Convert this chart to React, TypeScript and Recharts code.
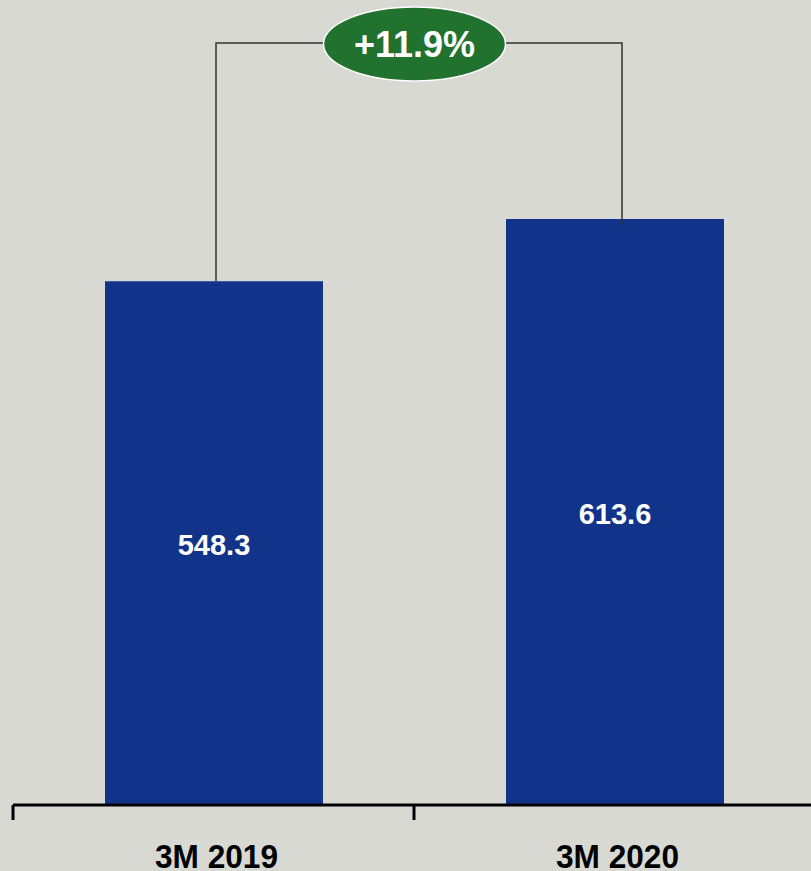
import { BarChart, Bar, XAxis, YAxis, LabelList } from "recharts"

const periods = ["3M 2019", "3M 2020"]
const revenue = [548.3, 613.6]

const data = periods.map((period, i) => ({ period, revenue: revenue[i] }))

const BG = "#D9D9D4"
const BLUE = "#12338A"
const GREEN = "#22722F"
const FONT = "'Liberation Sans', Arial, Helvetica, sans-serif"

const W = 830
const H = 871
const margin = { top: 41, right: 15, bottom: 0, left: 13 }
const band = (W - margin.left - margin.right) / periods.length
const bridgeY = 43

const growth = (revenue[1] / revenue[0] - 1) * 100
const growthText = `+${growth.toFixed(1)}%`

function PeriodTick(props: any) {
  const { x, y, payload } = props
  const left = x - band / 2
  return (
    <g>
      <line x1={left} x2={left} y1={y} y2={y + 15} stroke="#000" strokeWidth={3} />
      <text
        x={x + 3}
        y={y + 63}
        textAnchor="middle"
        fontSize={34}
        fontWeight="bold"
        fill="#000"
        fontFamily={FONT}
        textLength={123}
        lengthAdjust="spacingAndGlyphs"
      >
        {payload.value}
      </text>
    </g>
  )
}

// connector lines from each bar up to the growth bubble
function Bridge(props: any) {
  const { x, y, width, index, value } = props
  const cx = Number(x) + Number(width) / 2
  const first = index === 0 || (index === undefined && value === revenue[0])
  const line = { fill: "none", stroke: "#333", strokeWidth: 1.5 }
  if (first) {
    const lx = cx + 2
    return <path d={`M${lx},${y} V${bridgeY} H${cx + band / 2}`} {...line} />
  }
  const rx = cx + 7
  const mid = cx - band / 2
  return (
    <g>
      <path d={`M${rx},${Number(y) + 6} V${bridgeY} H${mid}`} {...line} />
      <ellipse cx={mid} cy={bridgeY + 1} rx={91} ry={37} fill={GREEN} stroke="#fff" strokeWidth={1.5} />
      <text
        x={mid}
        y={bridgeY + 14}
        textAnchor="middle"
        fontSize={36}
        fontWeight="bold"
        fill="#fff"
        fontFamily={FONT}
      >
        {growthText}
      </text>
    </g>
  )
}

export default function App() {
  return (
    <div style={{ position: "absolute", left: 0, top: 0, width: 811, height: H, overflow: "hidden", background: BG }}>
      <BarChart width={W} height={H} data={data} margin={margin}>
        <XAxis
          dataKey="period"
          height={66}
          tickSize={0}
          tickMargin={0}
          tickLine={false}
          axisLine={{ stroke: "#000", strokeWidth: 3 }}
          tick={<PeriodTick />}
          interval={0}
        />
        <YAxis hide domain={[0, 800]} />
        <Bar dataKey="revenue" fill={BLUE} barSize={218} isAnimationActive={false}>
          <LabelList
            dataKey="revenue"
            position="center"
            fill="#fff"
            fontSize={29}
            fontWeight="bold"
            fontFamily={FONT}
            dy={2}
          />
          <LabelList dataKey="revenue" content={<Bridge />} />
        </Bar>
      </BarChart>
    </div>
  )
}
